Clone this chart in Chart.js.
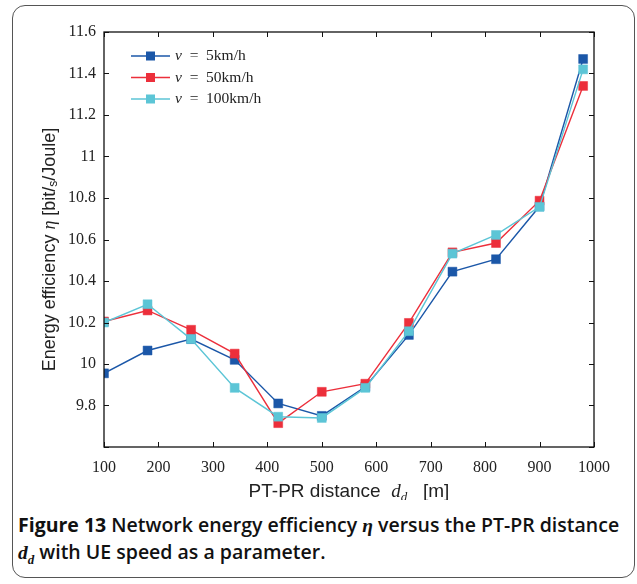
<!DOCTYPE html>
<html>
<head>
<meta charset="utf-8">
<script src="https://cdn.jsdelivr.net/npm/chart.js@4"></script>
<style>
  body { margin: 0; background: #fff; }
  #box { position: absolute; left: 12px; top: 5px; width: 621px; height: 571px;
         border: 1.5px solid #555; border-radius: 13px; }
  #wrap { position: absolute; left: 0; top: 0; width: 637px; height: 500px; }
  #cap { position: absolute; left: 18px; top: 512px; width: 614px;
         font-family: "Open Sans", sans-serif; font-weight: 600; font-size: 19.5px;
         line-height: 26px; color: #111; letter-spacing: 0; }
  #cap b { font-weight: 700; }
  #cap i { font-family: "Liberation Serif", serif; font-weight: 700; }
</style>
</head>
<body>
<div id="box"></div>
<div id="wrap"><canvas id="fig"></canvas></div>
<div id="cap"><b>Figure 13</b> Network energy efficiency <i>η</i> versus the PT-PR distance <i>d<sub style="font-size:13px">d</sub></i> with UE speed as a parameter.</div>
<script>
// distances d_d [m]
const distances = [100, 180, 260, 340, 420, 500, 580, 660, 740, 820, 900, 980];
// energy efficiency [bit/s/Joule] per UE speed
const eta5 = [9.955, 10.065, 10.12, 10.02, 9.81, 9.75, 9.89, 10.14, 10.445, 10.505, 10.76, 11.47];
const eta50 = [10.205, 10.258, 10.165, 10.05, 9.715, 9.866, 9.905, 10.198, 10.538, 10.583, 10.787, 11.34];
const eta100 = [10.2, 10.288, 10.12, 9.885, 9.746, 9.74, 9.885, 10.158, 10.532, 10.622, 10.757, 11.42];
const speedLabels = ["5km/h", "50km/h", "100km/h"];
const xTicks = [100, 200, 300, 400, 500, 600, 700, 800, 900, 1000];

const colors = ["#1b57a8", "#ec2f3b", "#5cc5d6"];

function makeSet(vals, i, ord) {
  return {
    label: "v = " + speedLabels[i],
    data: distances.map((d, k) => ({ x: d, y: vals[k] })),
    borderColor: colors[i],
    backgroundColor: colors[i],
    borderWidth: 1.4,
    pointStyle: "rect",
    pointRadius: 6.3,
    pointBorderWidth: 0.5,
    pointBorderColor: colors[i],
    order: ord,
    tension: 0
  };
}

function drawParts(ctx, parts, x, y) {
  parts.forEach(p => {
    ctx.font = p[1];
    ctx.fillText(p[0], x, y + p[2]);
    x += ctx.measureText(p[0]).width;
  });
}
function partsWidth(ctx, parts) {
  let w = 0;
  parts.forEach(p => { ctx.font = p[1]; w += ctx.measureText(p[0]).width; });
  return w;
}

const framePlugin = {
  id: "frame",
  afterDraw(chart) {
    const { ctx, chartArea: a, scales } = chart;
    const x = scales.x, y = scales.y;
    ctx.save();
    // box
    ctx.strokeStyle = "#111";
    ctx.lineWidth = 1.3;
    ctx.strokeRect(a.left, a.top, a.right - a.left, a.bottom - a.top);
    // inward ticks
    ctx.lineWidth = 1;
    ctx.beginPath();
    x.ticks.forEach(t => {
      const px = Math.round(x.getPixelForValue(t.value)) + 0.5;
      ctx.moveTo(px, a.bottom); ctx.lineTo(px, a.bottom - 5);
      ctx.moveTo(px, a.top); ctx.lineTo(px, a.top + 5);
    });
    y.ticks.forEach(t => {
      const py = Math.round(y.getPixelForValue(t.value)) + 0.5;
      ctx.moveTo(a.left, py); ctx.lineTo(a.left + 5, py);
      ctx.moveTo(a.right, py); ctx.lineTo(a.right - 5, py);
    });
    ctx.stroke();

    // legend
    const lx = a.left + 27, ly = a.top + 24, gap = 21.5;
    chart.data.datasets.forEach((ds, i) => {
      const yy = ly + i * gap;
      ctx.strokeStyle = ds.borderColor;
      ctx.lineWidth = 1.4;
      ctx.beginPath(); ctx.moveTo(lx, yy); ctx.lineTo(lx + 39, yy); ctx.stroke();
      ctx.fillStyle = ds.backgroundColor;
      ctx.fillRect(lx + 19.5 - 4.5, yy - 4.5, 9, 9);
      ctx.fillStyle = "#222";
      ctx.textBaseline = "middle";
      ctx.textAlign = "left";
      drawParts(ctx, [
        ["v", "italic 15.5px 'Liberation Serif'", 0],
        ["  =  ", "15.5px 'Liberation Serif'", 0],
        [speedLabels[i], "15.5px 'Liberation Serif'", 0]
      ], lx + 44, yy);
    });

    // x title
    ctx.fillStyle = "#222";
    ctx.textBaseline = "alphabetic";
    const xp = [
      ["PT-PR distance  ", "19px 'Liberation Sans'", 0],
      ["d", "italic 19px 'Liberation Serif'", 0],
      ["d", "italic 13px 'Liberation Serif'", 4],
      ["   [m]", "19px 'Liberation Sans'", 0]
    ];
    drawParts(ctx, xp, (a.left + a.right) / 2 - partsWidth(ctx, xp) / 2, 497);

    // y title
    ctx.translate(55, (a.top + a.bottom) / 2 + 10);
    ctx.rotate(-Math.PI / 2);
    const yp = [
      ["Energy efficiency ", "18px 'Liberation Sans'", 0],
      ["η", "italic 18px 'Liberation Serif'", 0],
      [" [bit/", "18px 'Liberation Sans'", 0],
      ["s", "12px 'Liberation Sans'", 2],
      ["/Joule]", "18px 'Liberation Sans'", 0]
    ];
    drawParts(ctx, yp, -partsWidth(ctx, yp) / 2, 0);
    ctx.restore();
  }
};

new Chart(document.getElementById("fig"), {
  type: "line",
  data: {
    datasets: [makeSet(eta5, 0, 2), makeSet(eta50, 1, 1), makeSet(eta100, 2, 0)]
  },
  options: {
    responsive: true,
    maintainAspectRatio: false,
    animation: false,
    layout: { padding: { left: 0, top: 32, right: 43, bottom: 0 } },
    plugins: { legend: { display: false }, tooltip: { enabled: false } },
    scales: {
      x: {
        type: "linear",
        min: 100, max: 1000,
        afterBuildTicks: s => { s.ticks = xTicks.map(v => ({ value: v })); },
        afterFit: s => { s.height = 53; },
        grid: { display: false, drawTicks: false },
        border: { display: false },
        ticks: {
          padding: 11, color: "#222", maxRotation: 0,
          font: { family: "Liberation Serif", size: 16 },
          callback: v => String(v)
        }
      },
      y: {
        min: 9.6, max: 11.6,
        afterFit: s => { s.width = 104; },
        grid: { display: false, drawTicks: false },
        border: { display: false },
        ticks: {
          stepSize: 0.2, padding: 8, color: "#222",
          font: { family: "Liberation Serif", size: 16 },
          callback: v => (Math.abs(v - 9.6) < 1e-6 ? "" : String(Math.round(v * 10) / 10))
        }
      }
    }
  },
  plugins: [framePlugin]
});
</script>
</body>
</html>
